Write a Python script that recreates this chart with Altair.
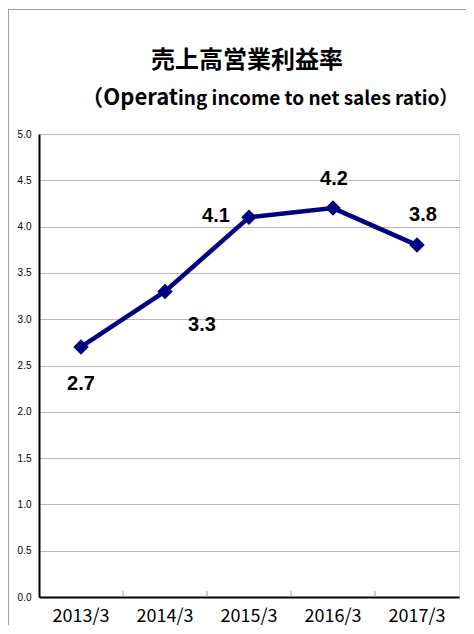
import altair as alt
import pandas as pd

periods = ["2013/3", "2014/3", "2015/3", "2016/3", "2017/3"]
ratios = [2.7, 3.3, 4.1, 4.2, 3.8]
y_ticks = [0.0, 0.5, 1.0, 1.5, 2.0, 2.5, 3.0, 3.5, 4.0, 4.5, 5.0]
title_main = "売上高営業利益率"
title_sub_a = "（Operat"
title_sub_b = "ing income to net sales ratio）"

df = pd.DataFrame({"period": periods, "ratio": ratios})
df["label"] = [f"{v:.1f}" for v in ratios]

W, H = 420, 463
NAVY = "#000080"

x_enc = alt.X("period:N", sort=periods,
              scale=alt.Scale(paddingInner=0, paddingOuter=0),
              axis=alt.Axis(title=None, ticks=False, labelFontSize=18,
                            labelFont="Noto Sans CJK JP", labelColor="black",
                            labelPadding=10, domainColor="black", domainWidth=2,
                            labelAngle=0))
y_enc = alt.Y("ratio:Q", scale=alt.Scale(domain=[0, 5]),
              axis=alt.Axis(title=None, values=y_ticks, format=".1f", ticks=False,
                            labelFontSize=10, labelFont="Liberation Sans",
                            labelColor="black", labelPadding=8,
                            domainColor="black", domainWidth=2,
                            gridColor="#b8b8b8", gridWidth=1))

base = alt.Chart(df)
one = base.transform_filter(alt.datum.period == periods[0])

frame_top = one.mark_rule(color="#a0a0a0", strokeWidth=1).encode(
    x=alt.value(-31), x2=alt.value(W + 10), y=alt.value(-124.5))
frame_left = one.mark_rule(color="#a0a0a0", strokeWidth=1).encode(
    x=alt.value(-30.5), y=alt.value(-125), y2=alt.value(H + 40))

t_main = one.mark_text(font="Noto Sans CJK JP", fontSize=24, fontWeight="bold",
                       color="black", baseline="middle", align="center").encode(
    x=alt.value(W / 2 - 2), y=alt.value(-73), text=alt.value(title_main))
t_sub_a = one.mark_text(font="Noto Sans CJK JP", fontSize=22, fontWeight="bold",
                        color="black", baseline="alphabetic", align="right").encode(
    x=alt.value(139), y=alt.value(-29), text=alt.value(title_sub_a))
t_sub_b = one.mark_text(font="Noto Sans CJK JP", fontSize=19, fontWeight="bold",
                        color="black", baseline="alphabetic", align="left").encode(
    x=alt.value(139), y=alt.value(-29), text=alt.value(title_sub_b))

inner_ticks = base.mark_rule(color="#a0a0a0", strokeWidth=1).encode(
    x=alt.X("period:N", sort=periods, bandPosition=0),
    y=alt.value(H - 6), y2=alt.value(H)
).transform_filter(alt.datum.period != periods[0])

line = base.mark_line(color=NAVY, strokeWidth=4.5).encode(x=x_enc, y=y_enc)
pts = base.mark_point(shape="diamond", filled=True, size=240, color=NAVY, opacity=1).encode(
    x=alt.X("period:N", sort=periods), y="ratio:Q")

offsets = {"2013/3": (0, 37), "2014/3": (37, 34), "2015/3": (-33, -1),
           "2016/3": (1, -29), "2017/3": (6, -30)}
labels = []
for p in periods:
    dx, dy = offsets[p]
    labels.append(
        base.mark_text(fontSize=20, fontWeight="bold", font="Liberation Sans",
                       color="black", dx=dx, dy=dy, baseline="middle")
        .encode(x=alt.X("period:N", sort=periods), y="ratio:Q", text="label:N")
        .transform_filter(alt.datum.period == p)
    )

chart = alt.layer(line, pts, inner_ticks, *labels, t_main, t_sub_a, t_sub_b,
                  frame_top, frame_left).properties(
    width=W, height=H,
    autosize=alt.AutoSizeParams(type="none"),
    padding={"left": 31, "top": 126, "right": 7, "bottom": 28},
).configure_view(stroke="#909090", strokeWidth=1).configure(background="white")

chart.save("out.html", embed_options={"renderer": "svg", "actions": False})
